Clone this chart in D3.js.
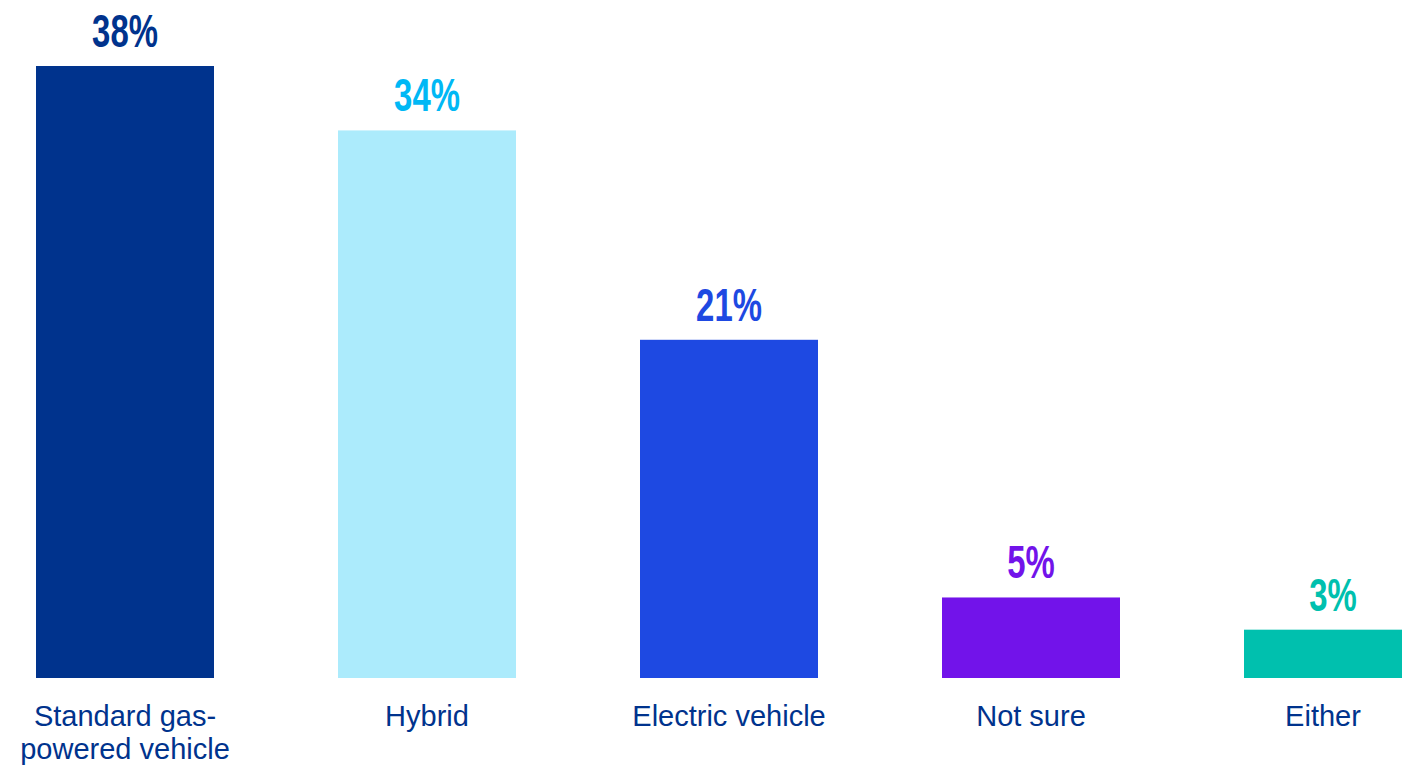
<!DOCTYPE html>
<html>
<head>
<meta charset="utf-8">
<script src="https://cdn.jsdelivr.net/npm/d3@7"></script>
<style>
  html, body { margin: 0; padding: 0; background: #ffffff; overflow: hidden; }
  svg { display: block; }
</style>
</head>
<body>
<svg id="chart" width="1402" height="766"></svg>
<script>
// Preferred vehicle type, share of respondents (%)
const categories = ["Standard gas-powered vehicle", "Hybrid", "Electric vehicle", "Not sure", "Either"];
const values = [38, 34, 21, 5, 3];
const barColors = ["#00338d", "#acebfc", "#1e49e2", "#7213ea", "#00c0ae"];
const valueColors = ["#00338d", "#00b8f5", "#1e49e2", "#7213ea", "#00c0ae"];
// Wrapped lines for category labels
const labelLines = [["Standard gas-", "powered vehicle"], ["Hybrid"], ["Electric vehicle"], ["Not sure"], ["Either"]];

const W = 1402, H = 766;
const svg = d3.select("#chart");

const x = d3.scaleBand()
  .domain(categories)
  .range([36, 1422])
  .paddingInner(124 / 302)
  .paddingOuter(0);

const y = d3.scaleLinear()
  .domain([0, 38])
  .range([678, 66]);

const data = categories.map((c, i) => ({ c, v: values[i], i }));

// Bars
svg.append("g").selectAll("rect")
  .data(data)
  .join("rect")
  .attr("x", d => x(d.c))
  .attr("y", d => y(d.v))
  .attr("width", x.bandwidth())
  .attr("height", d => y(0) - y(d.v))
  .attr("fill", d => barColors[d.i]);

// Value labels (condensed bold)
svg.append("g").selectAll("text")
  .data(data)
  .join("text")
  .attr("transform", d => `translate(${x(d.c) + x.bandwidth() / 2},${y(d.v) - 19}) scale(0.7,1)`)
  .attr("text-anchor", "middle")
  .attr("font-family", "'Liberation Sans', Arial, sans-serif")
  .attr("font-weight", "bold")
  .attr("font-size", 47)
  .attr("fill", d => valueColors[d.i])
  .text(d => d.v + "%");

// Category labels, centred on the visible part of each bar
const visibleCenter = d => {
  const a = Math.max(0, x(d.c));
  const b = Math.min(W, x(d.c) + x.bandwidth());
  return (a + b) / 2;
};

const cat = svg.append("g").selectAll("text")
  .data(data)
  .join("text")
  .attr("x", visibleCenter)
  .attr("y", 726)
  .attr("text-anchor", "middle")
  .attr("font-family", "'Liberation Sans', Arial, sans-serif")
  .attr("font-size", 29)
  .attr("fill", "#00338d");

cat.selectAll("tspan")
  .data(d => labelLines[d.i].map(t => ({ t, cx: visibleCenter(d) })))
  .join("tspan")
  .attr("x", t => t.cx)
  .attr("dy", (t, j) => j === 0 ? 0 : 33)
  .text(t => t.t);
</script>
</body>
</html>
